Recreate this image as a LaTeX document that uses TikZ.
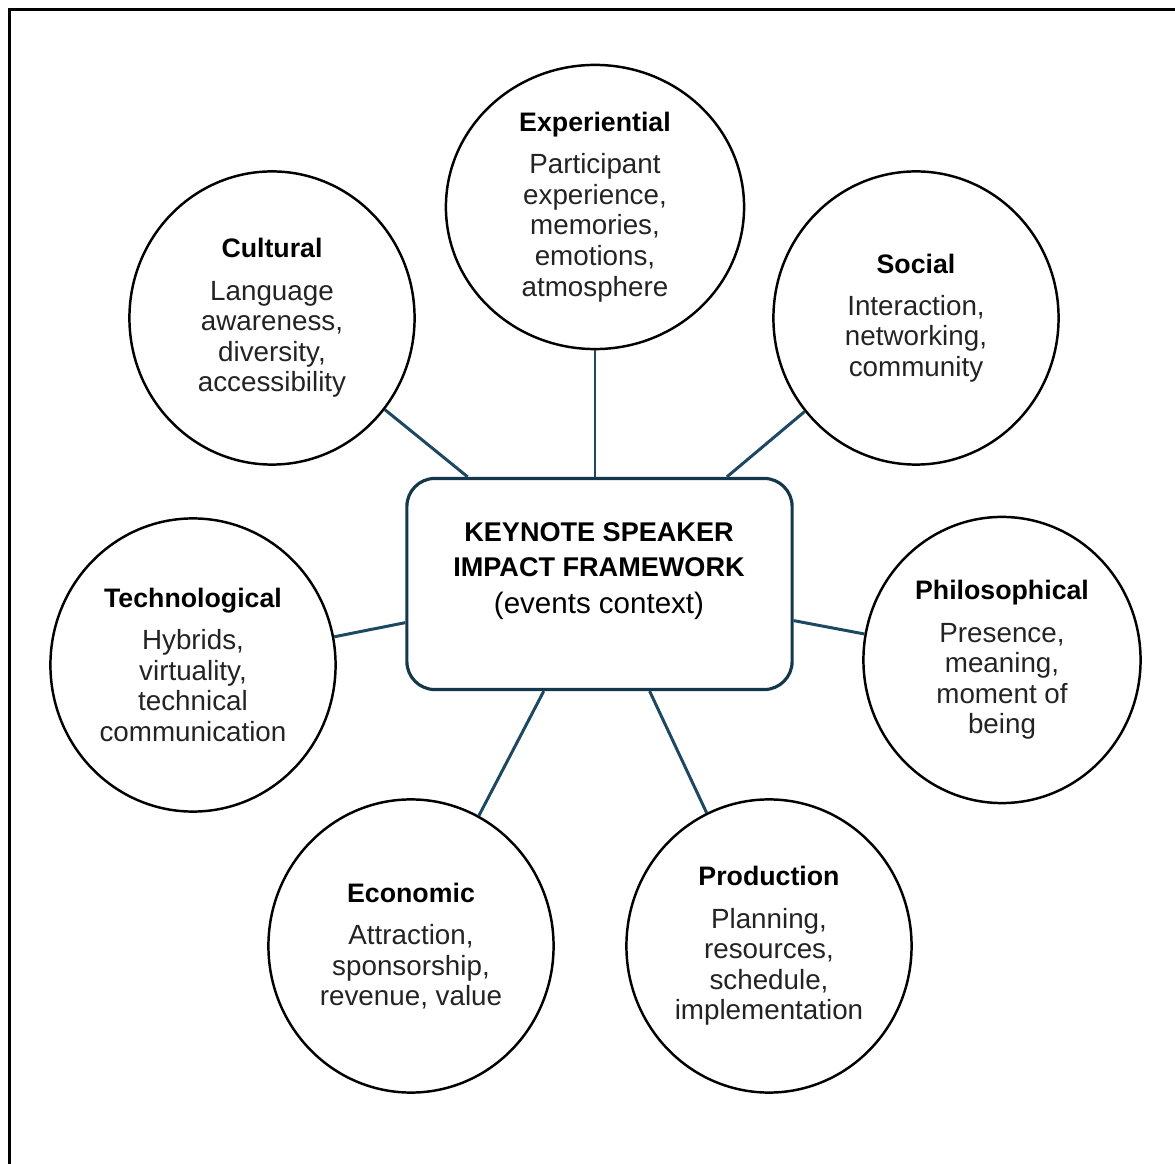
\documentclass[tikz,border=0pt]{standalone}
\usepackage{fontspec}
\setmainfont{Liberation Sans}
\usepackage{tikz}
\usetikzlibrary{shapes.geometric}
\definecolor{linkblue}{RGB}{28,72,98}
\definecolor{boxblue}{RGB}{20,55,75}
\definecolor{bodygray}{RGB}{35,35,35}
\tikzset{
  facet/.style={ellipse, draw=black, line width=0.7pt, minimum width=2.85cm, minimum height=2.93cm,
    inner sep=0pt, align=center, text=bodygray, font=\fontsize{7.9}{8.7}\selectfont},
  link/.style={draw=linkblue, line width=0.85pt},
  hub/.style={draw=boxblue, line width=0.9pt, rounded corners=0.28cm, minimum width=3.85cm, minimum height=2.11cm},
}
\newcommand{\facettitle}[1]{{\fontsize{7.6}{8.7}\selectfont\bfseries\color{black}#1}\\[3.3pt]}

\begin{document}
\begin{tikzpicture}[x=0.01cm, y=-0.01cm]
\useasboundingbox (0,0) rectangle (1175,1164);
\draw[line width=0.85pt] (9.5,1164) -- (9.5,10) -- (1175,10);

% centre
\node[hub] (keynote) at (599.5,584) {};
\node[align=center, font=\fontsize{7.7}{10}\selectfont] (hubtext) at (599,571)
  {\bfseries KEYNOTE SPEAKER\\\bfseries IMPACT FRAMEWORK\\[0.5pt]{\fontsize{8.4}{10}\selectfont (events context)}};

% facets
\node[facet] (cultural) at (272,318) {\facettitle{Cultural}Language\\awareness,\\diversity,\\accessibility};
\node[facet, minimum width=2.98cm, minimum height=2.84cm] (experiential) at (595,207)
  {\facettitle{Experiential}Participant\\experience,\\memories,\\emotions,\\atmosphere};
\node[facet] (social) at (916,318) {\facettitle{Social}Interaction,\\networking,\\community};
\node[facet] (technological) at (193,665) {\facettitle{Technological}Hybrids,\\virtuality,\\technical\\communication};
\node[facet, minimum width=2.77cm, minimum height=2.86cm] (philosophical) at (1002,660)
  {\facettitle{Philosophical}Presence,\\meaning,\\moment of\\being};
\node[facet] (economic) at (411,946) {\facettitle{Economic}Attraction,\\sponsorship,\\revenue, value};
\node[facet] (production) at (769,946) {\facettitle{Production}Planning,\\resources,\\schedule,\\implementation};

\draw[link] (experiential) -- (experiential |- keynote.north);
\foreach \f in {cultural,social,technological,philosophical,economic,production}
  \draw[link] (\f) -- (keynote);
\end{tikzpicture}
\end{document}
